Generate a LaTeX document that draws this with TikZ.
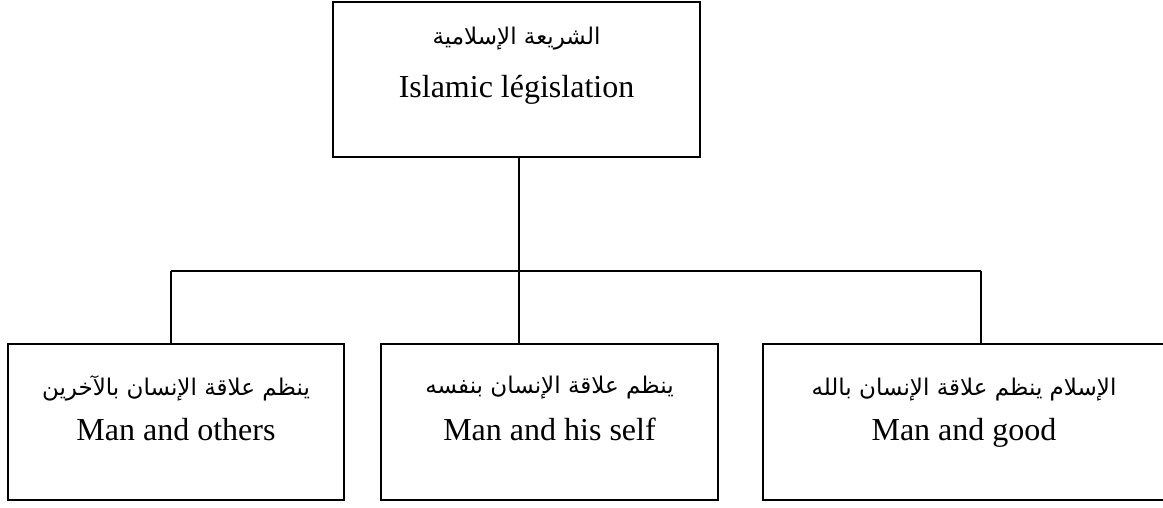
\documentclass[tikz,border=0pt]{standalone}
\usepackage{fontspec}
\setmainfont{Liberation Serif}
\newfontfamily\arabicfont[Script=Arabic]{DejaVu Sans}
\TeXXeTstate=1
\begin{document}
\begin{tikzpicture}[x=1pt,y=-1pt,
  boxst/.style={draw,line width=1.5pt,rectangle,inner sep=0pt},
  en/.style={font=\fontsize{32}{34}\selectfont,inner sep=0pt,anchor=base},
  ar/.style={font=\arabicfont\fontsize{23}{26}\selectfont,inner sep=0pt},
  conn/.style={line width=1.5pt}]
\useasboundingbox (0,0) rectangle (1163,507);
\node[boxst,minimum width=367pt,minimum height=155pt] (top) at (516.5,79.5) {};
\node[boxst,minimum width=336pt,minimum height=156pt] (left) at (176,422) {};
\node[boxst,minimum width=337pt,minimum height=156pt] (mid) at (549.5,422) {};
\node[boxst,minimum width=406pt,minimum height=156pt] (right) at (966,422) {};
\node[ar] (topar) at (516.5,39) {\beginR الشريعة الإسلامية\endR};
\node[en] (topen) at (516.5,97) {Islamic législation};
\node[ar] (leftar) at (176,388) {\beginR ينظم علاقة الإنسان بالآخرين\endR};
\node[en] (leften) at (176,440) {Man and others};
\node[ar] (midar) at (549.5,388) {\beginR ينظم علاقة الإنسان بنفسه\endR};
\node[en] (miden) at (549.5,440) {Man and his self};
\node[ar] (rightar) at (964,390) {\beginR الإسلام ينظم علاقة الإنسان بالله\endR};
\node[en] (righten) at (964,440) {Man and good};
\coordinate (hub) at (519,271);
\coordinate (hl) at (171,271);
\coordinate (hr) at (981,271);
\draw[conn] (top.south -| hub) -- (hub);
\draw[conn] (hl) -- (hr);
\draw[conn] (hl) -- (left.north -| hl);
\draw[conn] (hub) -- (mid.north -| hub);
\draw[conn] (hr) -- (right.north -| hr);
\end{tikzpicture}
\end{document}
